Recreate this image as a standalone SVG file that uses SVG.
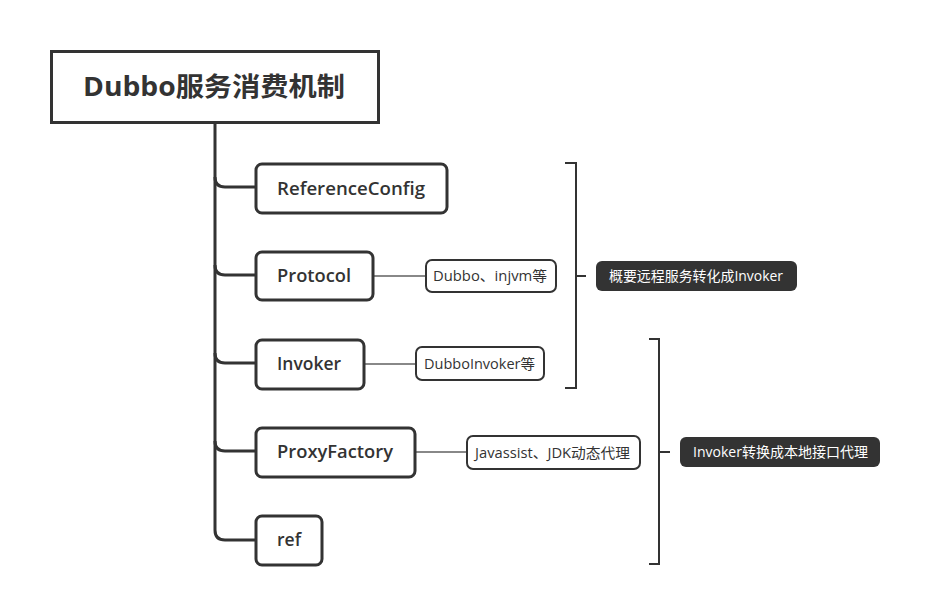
<svg xmlns="http://www.w3.org/2000/svg" width="931" height="615" viewBox="0 0 931 615">
<style>
.node{fill:#fff;stroke:#333;stroke-width:3}
.main{font-family:"Open Sans","Noto Sans CJK SC",sans-serif;font-size:18px;font-weight:600;fill:#333}
.lbl{fill:#fff;stroke:#333;stroke-width:2}
.lt{font-family:"Open Sans","Noto Sans CJK SC",sans-serif;font-size:14px;fill:#333}
.sum{fill:#333}
.st{font-family:"Open Sans","Noto Sans CJK SC",sans-serif;font-size:14px;fill:#fff}
.trunk{fill:none;stroke:#333;stroke-width:3}
.thin{fill:none;stroke:#888;stroke-width:2}
.br{fill:none;stroke:#333;stroke-width:2}
</style>
<rect width="931" height="615" fill="#fff"/>
<g id="connectors">
<path class="trunk" d="M215,123 V530 Q215,540 225,540 H256"/>
<path class="trunk" d="M215,177 Q215,187 225,187 H256"/>
<path class="trunk" d="M215,265 Q215,275 225,275 H256"/>
<path class="trunk" d="M215,353 Q215,363 225,363 H256"/>
<path class="trunk" d="M215,441 Q215,451 225,451 H256"/>
<path class="thin" d="M373,276 H426"/>
<path class="thin" d="M364,364 H416"/>
<path class="thin" d="M415,452 H467"/>
</g>
<g id="root">
<rect x="51.5" y="51.5" width="327" height="71" fill="#fff" stroke="#333" stroke-width="3"/>
<text x="83" y="96" textLength="262" lengthAdjust="spacingAndGlyphs" font-family="'Open Sans','Noto Sans CJK SC',sans-serif" font-size="26" font-weight="bold" fill="#333">Dubbo服务消费机制</text>
</g>
<g id="n-referenceconfig">
<rect class="node" x="256" y="164" width="191" height="49" rx="6"/>
<text class="main" x="277" y="194.5" textLength="148" lengthAdjust="spacingAndGlyphs">ReferenceConfig</text>
</g>
<g id="n-protocol">
<rect class="node" x="256" y="252" width="117" height="48" rx="6"/>
<text class="main" x="277" y="282" textLength="74" lengthAdjust="spacingAndGlyphs">Protocol</text>
</g>
<g id="n-invoker">
<rect class="node" x="256" y="340" width="108" height="49" rx="6"/>
<text class="main" x="277" y="370" textLength="64" lengthAdjust="spacingAndGlyphs">Invoker</text>
</g>
<g id="n-proxyfactory">
<rect class="node" x="256" y="428" width="159" height="49" rx="6"/>
<text class="main" x="277" y="458" textLength="116" lengthAdjust="spacingAndGlyphs">ProxyFactory</text>
</g>
<g id="n-ref">
<rect class="node" x="256" y="516" width="66" height="49" rx="6"/>
<text class="main" x="277" y="546" textLength="24" lengthAdjust="spacingAndGlyphs">ref</text>
</g>
<g id="l-dubbo">
<rect class="lbl" x="426" y="260" width="130" height="32" rx="6"/>
<text class="lt" x="433" y="281" textLength="114" lengthAdjust="spacingAndGlyphs">Dubbo、injvm等</text>
</g>
<g id="l-dubboinvoker">
<rect class="lbl" x="416" y="347" width="128" height="33" rx="6"/>
<text class="lt" x="424" y="369" textLength="111" lengthAdjust="spacingAndGlyphs">DubboInvoker等</text>
</g>
<g id="l-javassist">
<rect class="lbl" x="467" y="436" width="173" height="33" rx="6"/>
<text class="lt" x="475" y="457.5" textLength="155" lengthAdjust="spacingAndGlyphs">Javassist、JDK动态代理</text>
</g>
<g id="bracket-1">
<path class="br" d="M565,163 H576 V388 H565 M576,276 H586"/>
</g>
<g id="summary-1">
<rect class="sum" x="596" y="261" width="201" height="30" rx="6"/>
<text class="st" x="609" y="281" textLength="174" lengthAdjust="spacingAndGlyphs">概要远程服务转化成Invoker</text>
</g>
<g id="bracket-2">
<path class="br" d="M649,339 H659 V564 H649 M659,452 H670"/>
</g>
<g id="summary-2">
<rect class="sum" x="680" y="437" width="200" height="30" rx="6"/>
<text class="st" x="693" y="457" textLength="175" lengthAdjust="spacingAndGlyphs">Invoker转换成本地接口代理</text>
</g>
</svg>
